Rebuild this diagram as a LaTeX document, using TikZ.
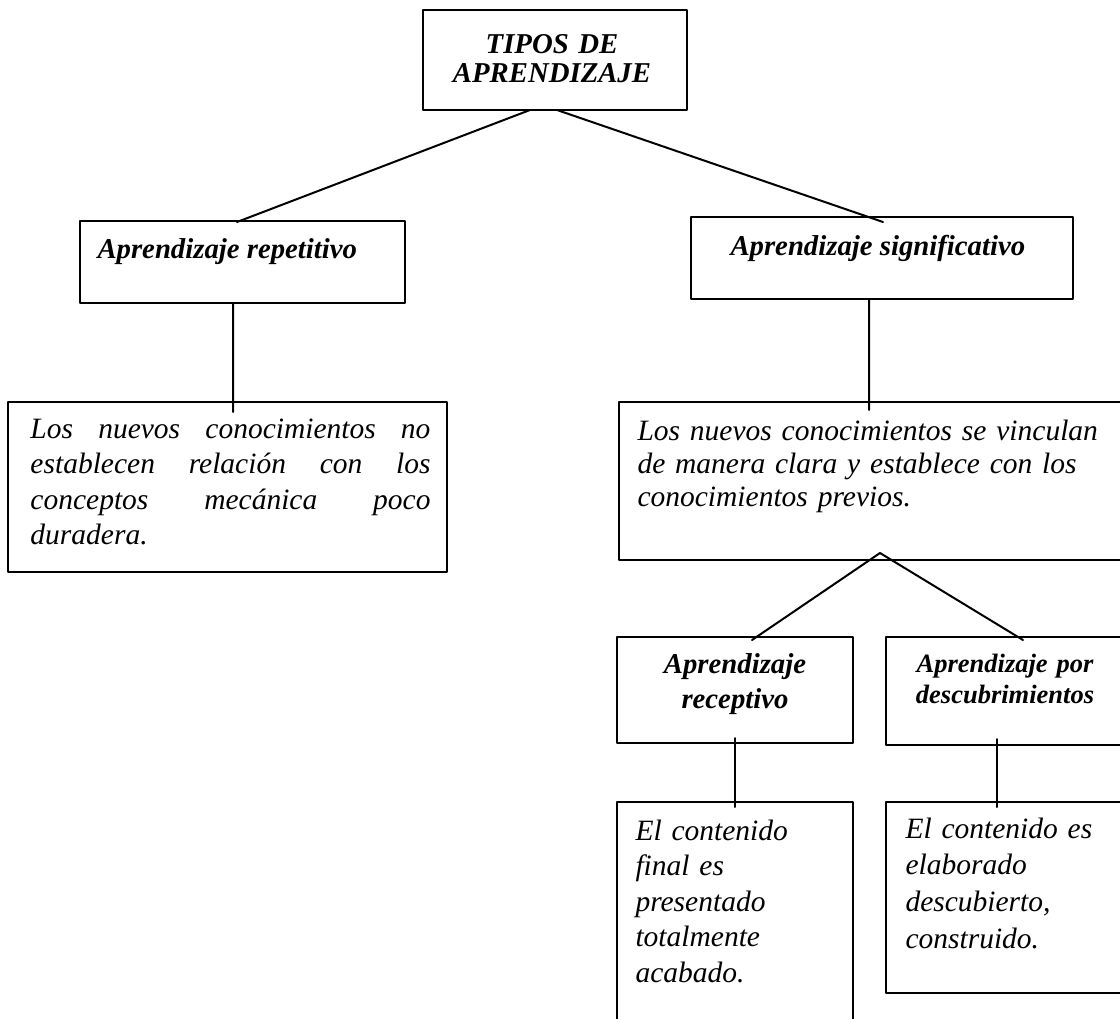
\documentclass[tikz,border=0pt]{standalone}
\usepackage{fontspec}
\setmainfont{Liberation Serif}
\tikzset{
 caja/.style={draw,line width=0.6pt,inner sep=0pt,outer sep=0pt,anchor=north west},
 enlace/.style={line width=0.8pt},
 titulo/.style={inner sep=0pt,font=\fontsize{11.5}{14}\selectfont\bfseries\itshape,align=center,anchor=base},
 texto/.style={inner sep=0pt,font=\fontsize{11.8}{14.2}\selectfont\itshape,align=left,anchor=base west},
}
\begin{document}
\begin{tikzpicture}[x=0.4pt,y=-0.4pt,line join=round,line cap=round]
 \useasboundingbox (0,0) rectangle (1120,1019);
 \clip (0,0) rectangle (1120,1019);
 % cajas
 \node[caja,minimum width=105.6pt,minimum height=40pt] (tipos) at (423,10) {};
 \node[caja,minimum width=130pt,minimum height=32.8pt] (repet) at (80,221) {};
 \node[caja,minimum width=152.8pt,minimum height=32.8pt] (signif) at (691,217) {};
 \node[caja,minimum width=175.6pt,minimum height=68pt] (repetC) at (8,402) {};
 \node[caja,minimum width=208.4pt,minimum height=63.2pt] (signifC) at (619,402) {};
 \node[caja,minimum width=94.4pt,minimum height=42.4pt] (recep) at (617,637) {};
 \node[caja,minimum width=95.2pt,minimum height=43.2pt] (descub) at (886,637) {};
 \node[caja,minimum width=94.4pt,minimum height=95.2pt] (recepC) at (617,802) {};
 \node[caja,minimum width=95.2pt,minimum height=76.4pt] (descubC) at (886,802) {};
 % textos
 \node[titulo,text width=110pt,font=\fontsize{11.5}{11.4}\selectfont\bfseries\itshape] (tiposT) at (552,54) {TIPOS DE\\APRENDIZAJE};
 \node[titulo,anchor=base west] (repetT) at (97,258) {Aprendizaje repetitivo};
 \node[titulo,anchor=base west] (signifT) at (730,255) {Aprendizaje significativo};
 \node[titulo,text width=90pt] (recepT) at (735,673) {Aprendizaje\\receptivo};
 \node[titulo,text width=92pt,font=\fontsize{10.6}{12.4}\selectfont\bfseries\itshape] (descubT) at (1005,672) {Aprendizaje por\\descubrimientos};
 \node[texto,text width=160pt,align=justify] (repetCT) at (30,438)
  {Los nuevos conocimientos no\linebreak establecen relación con los\linebreak conceptos mecánica poco\linebreak duradera.};
 \node[texto,text width=200pt,font=\fontsize{11.8}{13.2}\selectfont\itshape] (signifCT) at (637,440)
  {Los nuevos conocimientos se vinculan\\de manera clara y establece con los\\conocimientos previos.};
 \node[texto,text width=85pt] (recepCT) at (635,840)
  {El contenido\\final es\\presentado\\totalmente\\acabado.};
 \node[texto,text width=85pt,font=\fontsize{11.8}{14.7}\selectfont\itshape] (descubCT) at (905,838)
  {El contenido es\\elaborado\\descubierto,\\construido.};
 % enlaces
 \draw[enlace] ([xshift=-10pt]tipos.south) -- ([xshift=-2.2pt,yshift=-0.4pt]repet.north);
 \draw[enlace] ([xshift=0.8pt]tipos.south) -- ([xshift=0.4pt,yshift=-2pt]signif.north);
 \draw[enlace] ([xshift=-3.8pt]repet.south) -- ([xshift=2.2pt,yshift=-4pt]repetC.north);
 \draw[enlace] ([xshift=-5.2pt]signif.south) -- ([xshift=-4.2pt,yshift=-3.2pt]signifC.north);
 \draw[enlace] ([xshift=6.8pt,yshift=-1.2pt]recep.north) -- ([xshift=0.2pt,yshift=2.8pt]signifC.south)
  -- ([xshift=7.2pt,yshift=-1.2pt]descub.north);
 \draw[enlace] ([yshift=2pt]recep.south) -- ([yshift=-2pt]recepC.north);
 \draw[enlace] ([xshift=-3.2pt,yshift=2.4pt]descub.south) -- ([xshift=-3.2pt,yshift=-2pt]descubC.north);
\end{tikzpicture}
\end{document}
